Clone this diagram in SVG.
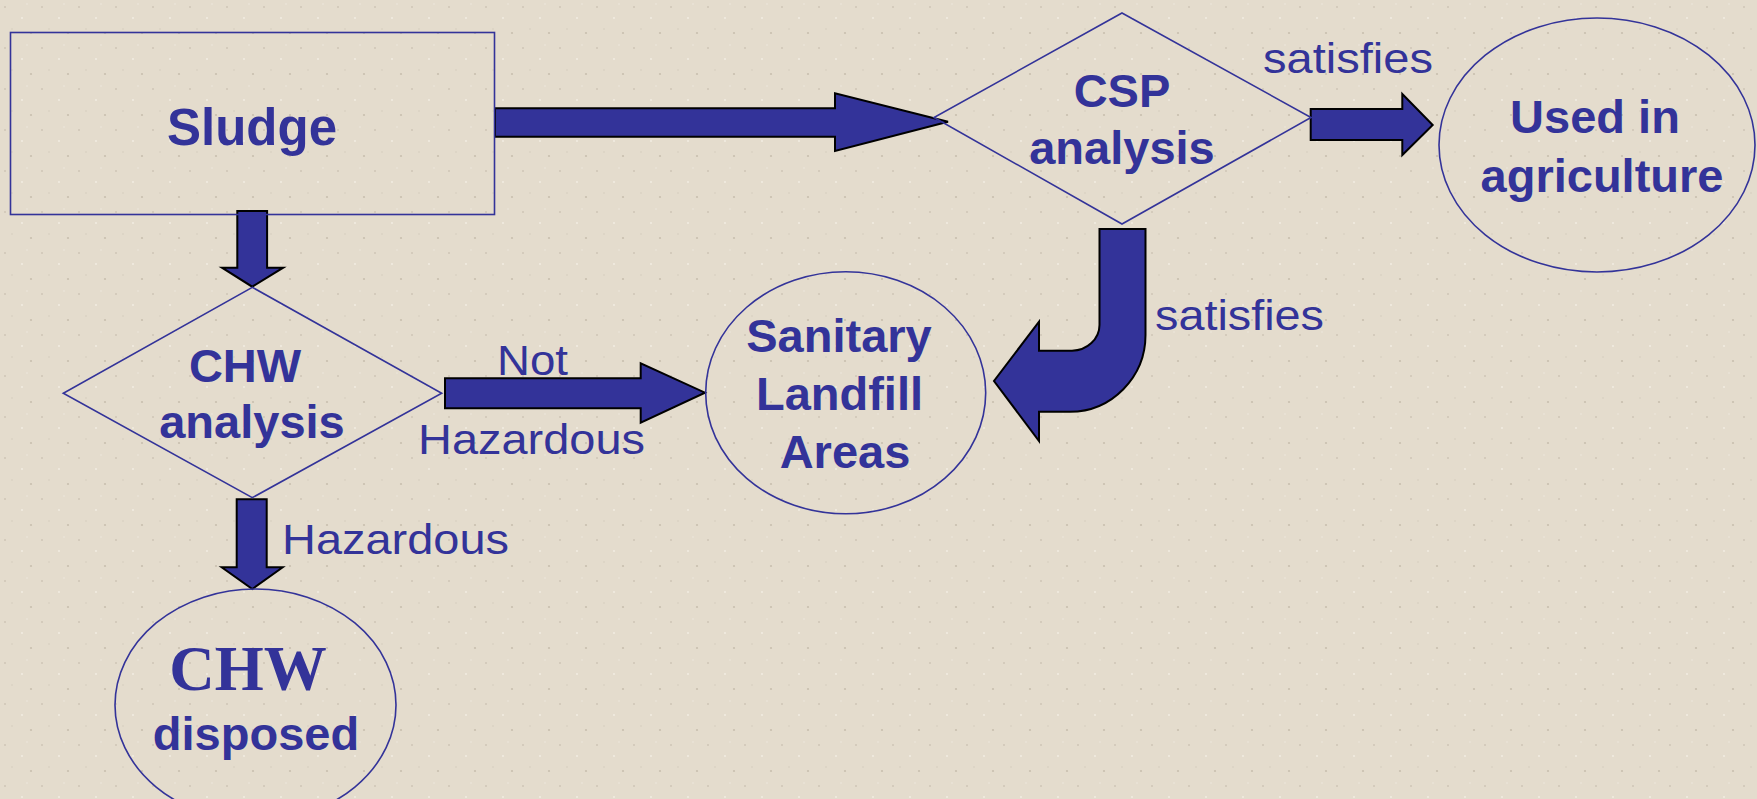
<svg xmlns="http://www.w3.org/2000/svg" width="1757" height="799" viewBox="0 0 1757 799">
<defs>
<pattern id="tex" width="37" height="41" patternUnits="userSpaceOnUse">
<rect width="37" height="41" fill="#E4DCCD"/>
<circle cx="5" cy="7" r="1" fill="#CFC6B6"/>
<circle cx="22" cy="18" r="0.9" fill="#F3EEE4"/>
<circle cx="31" cy="33" r="1.1" fill="#C9C0AF"/>
<circle cx="12" cy="29" r="0.8" fill="#D6CDBD"/>
<circle cx="27" cy="4" r="0.7" fill="#F1EBE0"/>
</pattern>
<style>
.shape{fill:none;stroke:#333399;stroke-width:1.6}
.arrow{fill:#333399;stroke:#000;stroke-width:2;stroke-linejoin:miter}
.bold{font-family:"Liberation Sans",Arial,sans-serif;font-weight:bold;fill:#333399;text-anchor:middle}
.lbl{font-family:"Liberation Sans",Arial,sans-serif;fill:#333399;font-size:42px}
.serif{font-family:"Liberation Serif","Times New Roman",serif;font-weight:bold;fill:#333399;text-anchor:middle}
</style>
</defs>
<rect width="1757" height="799" fill="url(#tex)"/>

<g id="connectors">
<path class="arrow" d="M495,108.3 L835,108.3 L835,93.3 L948,121.7 L835,151 L835,136.7 L495,136.7 Z"/>
<path class="arrow" d="M237.3,211 L267.1,211 L267.1,267.7 L283.2,267.7 L252.2,286.7 L222,267.7 L237.3,267.7 Z"/>
<path class="arrow" d="M1310.7,109 L1402.3,109 L1402.3,94 L1432.7,125 L1402.3,155 L1402.3,140 L1310.7,140 Z"/>
<path class="arrow" d="M445,378.3 L640.7,378.3 L640.7,363.3 L705,392.7 L640.7,422.7 L640.7,408.3 L445,408.3 Z"/>
<path class="arrow" d="M236.7,499.3 L266.7,499.3 L266.7,567.3 L282.7,567.3 L252.3,589 L221.7,567.3 L236.7,567.3 Z"/>
<path class="arrow" d="M1099.5,229 L1145.5,229 L1145.5,335 C1145.5,377.2 1111.5,411.7 1070,411.7 L1039,411.7 L1039,441 L994,381 L1039,321.7 L1039,350.7 L1072,350.7 C1087,350.7 1099.5,339 1099.5,325 Z"/>
<text class="lbl" x="1263" y="73" textLength="170" lengthAdjust="spacingAndGlyphs">satisfies</text>
<text class="lbl" x="1155" y="330" textLength="169" lengthAdjust="spacingAndGlyphs">satisfies</text>
<text class="lbl" x="497" y="375" textLength="71" lengthAdjust="spacingAndGlyphs">Not</text>
<text class="lbl" x="418" y="454" textLength="227" lengthAdjust="spacingAndGlyphs">Hazardous</text>
<text class="lbl" x="282" y="554" textLength="227" lengthAdjust="spacingAndGlyphs">Hazardous</text>
</g>

<g id="sludge">
<rect class="shape" x="10.5" y="32.5" width="484" height="182"/>
<text class="bold" x="252" y="145" font-size="51">Sludge</text>
</g>

<g id="csp-analysis">
<polygon class="shape" points="1122,13 1311,117.5 1122,224 934,117.5"/>
<text class="bold" x="1122" y="107" font-size="47">CSP</text>
<text class="bold" x="1122" y="164" font-size="47">analysis</text>
</g>

<g id="used-in-agriculture">
<ellipse class="shape" cx="1597" cy="145" rx="158" ry="127"/>
<text class="bold" x="1595" y="133" font-size="47">Used in</text>
<text class="bold" x="1602" y="192" font-size="47">agriculture</text>
</g>

<g id="chw-analysis">
<polygon class="shape" points="252.3,287.3 441.7,393.3 252.3,497.7 63.3,393.3"/>
<text class="bold" x="245" y="382" font-size="47">CHW</text>
<text class="bold" x="252" y="438" font-size="47">analysis</text>
</g>

<g id="sanitary-landfill">
<ellipse class="shape" cx="845.7" cy="392.8" rx="140" ry="121"/>
<text class="bold" x="839" y="352" font-size="47">Sanitary</text>
<text class="bold" x="839.5" y="410" font-size="47">Landfill</text>
<text class="bold" x="845" y="468" font-size="47">Areas</text>
</g>

<g id="chw-disposed">
<ellipse class="shape" cx="255.5" cy="705" rx="140.5" ry="116"/>
<text class="serif" x="248" y="690" font-size="63">CHW</text>
<text class="bold" x="256" y="750" font-size="47">disposed</text>
</g>
</svg>
